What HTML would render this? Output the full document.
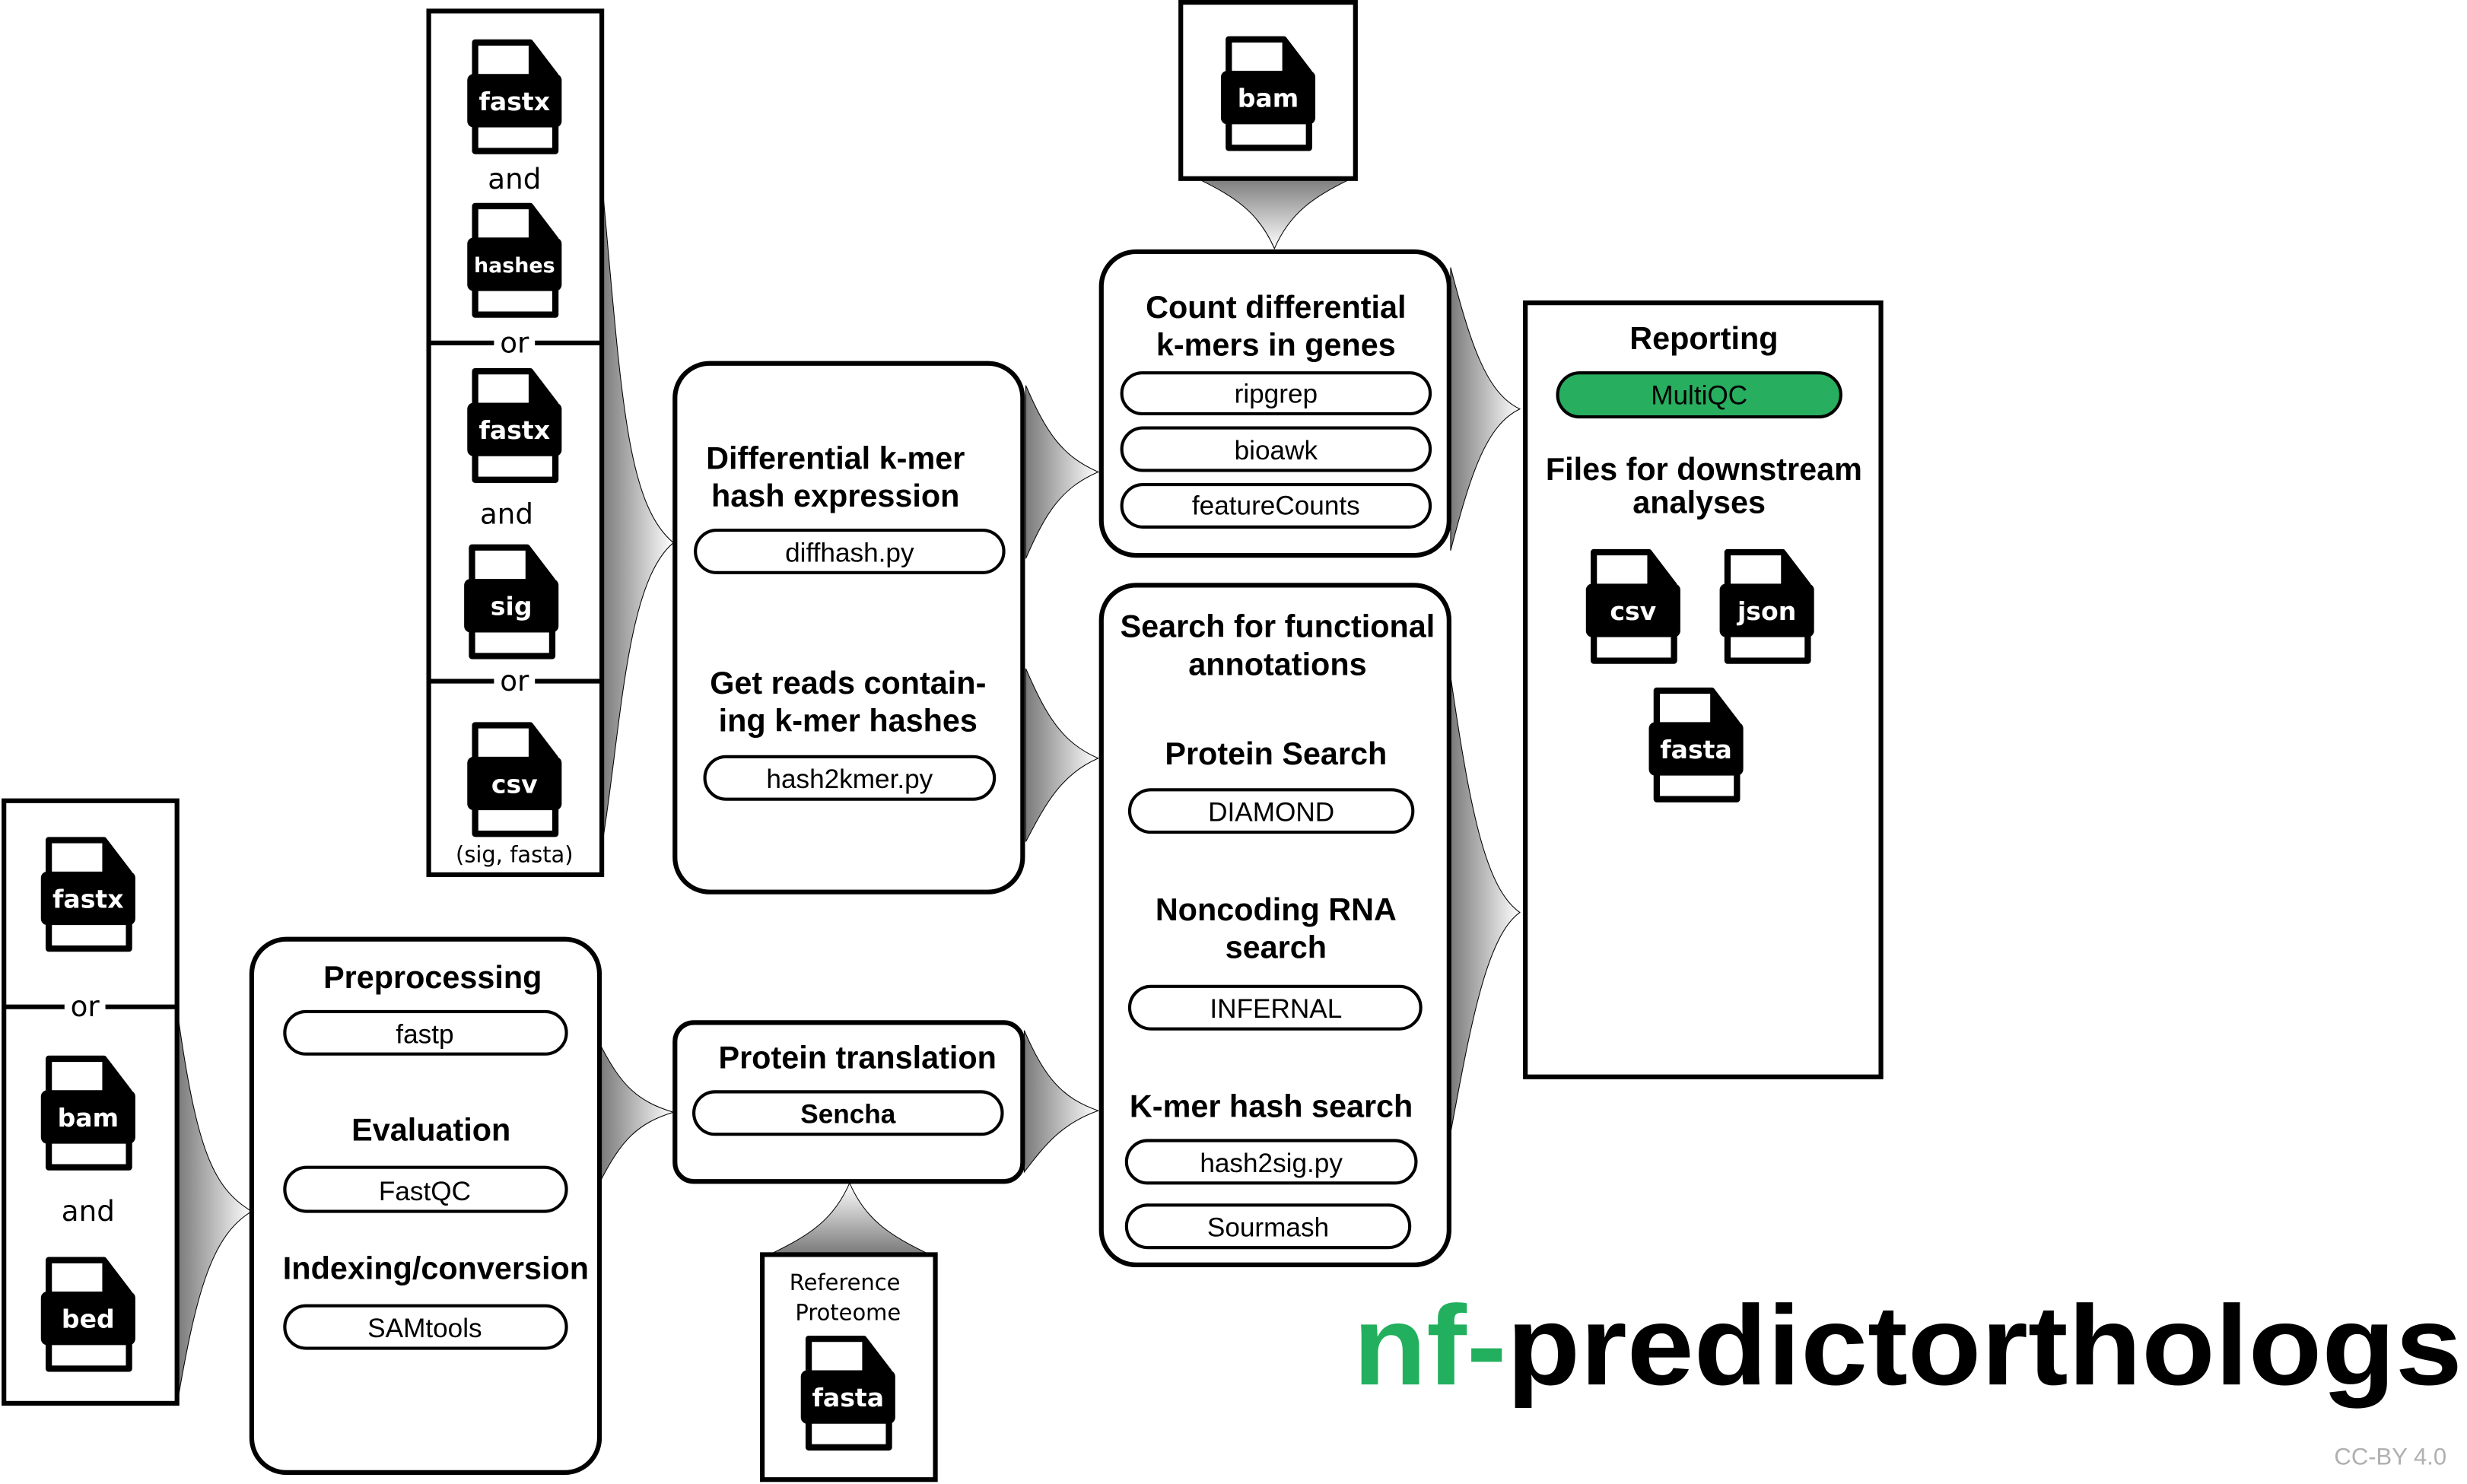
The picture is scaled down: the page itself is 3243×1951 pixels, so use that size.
<!DOCTYPE html>
<html><head><meta charset="utf-8"><style>
html,body{margin:0;padding:0;background:#fff;}
svg{display:block;}
</style></head><body>
<svg xmlns="http://www.w3.org/2000/svg" width="3243" height="1951" viewBox="0 0 1568 943.3" preserveAspectRatio="none">
<defs>
<linearGradient id="gh" x1="0" y1="0" x2="1" y2="0"><stop offset="0" stop-color="#7a7a7a"/><stop offset="1" stop-color="#ffffff"/></linearGradient>
<linearGradient id="gd" x1="0" y1="0" x2="0" y2="1"><stop offset="0" stop-color="#7a7a7a"/><stop offset="1" stop-color="#ffffff"/></linearGradient>
<linearGradient id="gu" x1="0" y1="1" x2="0" y2="0"><stop offset="0" stop-color="#7a7a7a"/><stop offset="1" stop-color="#ffffff"/></linearGradient>
<g id="doc">
<path d="M-25,-37 H10 L26,-16 V32 H-25 Z" fill="#fff" stroke="#000" stroke-width="4" stroke-linejoin="round"/>
<path d="M10,-37 V-16 H26 Z" fill="#000" stroke="#000" stroke-width="2" stroke-linejoin="round"/>
<rect x="-30" y="-17" width="60" height="34" rx="4" fill="#000"/>
</g>
</defs>
<g font-family="Liberation Sans, sans-serif">

<g stroke="#000" stroke-width="0.5">
<path d="M383,120 C395,250 398,320 428,345 C398,370 395,460 383,535 Z" fill="url(#gh)"/>
<path d="M652,245 C665,275 675,290 698,300 C675,310 665,325 652,355 Z" fill="url(#gh)"/>
<path d="M652,425 C665,455 675,472 698,482 C675,492 665,510 652,535 Z" fill="url(#gh)"/>
<path d="M922,170 C935,220 945,250 966,260 C945,270 935,300 922,350 Z" fill="url(#gh)"/>
<path d="M922,430 C935,520 945,565 966,580 C945,595 935,650 922,720 Z" fill="url(#gh)"/>
<path d="M113,645 C125,730 135,755 160,770 C135,785 125,820 113,890 Z" fill="url(#gh)"/>
<path d="M382,665 C395,690 405,700 428,707 C405,714 395,725 382,750 Z" fill="url(#gh)"/>
<path d="M651,655 C664,685 675,698 698,706 C675,714 664,728 651,745 Z" fill="url(#gh)"/>
<path d="M760,113 C785,125 800,135 810,158 C820,135 835,125 860,113 Z" fill="url(#gd)"/>
<path d="M490,797 C515,785 530,775 540,752 C550,775 565,785 590,797 Z" fill="url(#gu)"/>
</g>

<rect x="272.5" y="7" width="110" height="549" fill="#fff" stroke="#000" stroke-width="3"/>
<line x1="272" y1="218" x2="383" y2="218" stroke="#000" stroke-width="3"/>
<line x1="272" y1="433" x2="383" y2="433" stroke="#000" stroke-width="3"/>
<rect x="314" y="210" width="26" height="16" fill="#fff"/>
<rect x="314" y="425" width="26" height="16" fill="#fff"/>
<g font-family="DejaVu Sans, sans-serif" font-size="18" text-anchor="middle">
<text x="327" y="120">and</text>
<text x="327" y="224">or</text>
<text x="322" y="333">and</text>
<text x="327" y="439">or</text>
<text x="327" y="548" font-size="14">(sig, fasta)</text>
</g>
<g font-family="DejaVu Sans, sans-serif" font-weight="bold" fill="#fff" text-anchor="middle">
<use href="#doc" transform="translate(327,64)"/><text x="327" y="70" font-size="16">fastx</text>
<use href="#doc" transform="translate(327,168)"/><text x="327" y="173" font-size="13">hashes</text>
<use href="#doc" transform="translate(327,273)"/><text x="327" y="279" font-size="16">fastx</text>
<use href="#doc" transform="translate(325,385)"/><text x="325" y="391" font-size="16">sig</text>
<use href="#doc" transform="translate(327,498)"/><text x="327" y="504" font-size="16">csv</text>
</g>

<rect x="429" y="231" width="221" height="336" rx="22" fill="#fff" stroke="#000" stroke-width="3"/>
<g font-weight="bold" font-size="20" text-anchor="middle">
<text x="531" y="298">Differential k-mer</text>
<text x="531" y="322">hash expression</text>
<text x="539" y="441">Get reads contain-</text>
<text x="539" y="465">ing k-mer hashes</text>
</g>
<g fill="#fff" stroke="#000" stroke-width="2">
<rect x="442" y="337" width="196" height="27" rx="13.5"/>
<rect x="448" y="481" width="184" height="27" rx="13.5"/>
</g>
<g font-size="17" text-anchor="middle">
<text x="540" y="357">diffhash.py</text>
<text x="540" y="501">hash2kmer.py</text>
</g>

<rect x="750.5" y="1.5" width="111" height="112" fill="#fff" stroke="#000" stroke-width="3"/>
<use href="#doc" transform="translate(806,62)"/>
<text x="806" y="68" font-family="DejaVu Sans, sans-serif" font-weight="bold" fill="#fff" font-size="16" text-anchor="middle">bam</text>

<rect x="700" y="160" width="221" height="193" rx="22" fill="#fff" stroke="#000" stroke-width="3"/>
<g font-weight="bold" font-size="20" text-anchor="middle">
<text x="811" y="202">Count differential</text>
<text x="811" y="226">k-mers in genes</text>
</g>
<g fill="#fff" stroke="#000" stroke-width="2">
<rect x="713" y="237" width="196" height="26" rx="13"/>
<rect x="713" y="272" width="196" height="27" rx="13.5"/>
<rect x="713" y="308" width="196" height="27" rx="13.5"/>
</g>
<g font-size="17" text-anchor="middle">
<text x="811" y="256">ripgrep</text>
<text x="811" y="292">bioawk</text>
<text x="811" y="327">featureCounts</text>
</g>

<rect x="700" y="372" width="221" height="432" rx="22" fill="#fff" stroke="#000" stroke-width="3"/>
<g font-weight="bold" font-size="20" text-anchor="middle">
<text x="812" y="405">Search for functional</text>
<text x="812" y="429">annotations</text>
<text x="811" y="486">Protein Search</text>
<text x="811" y="585">Noncoding RNA</text>
<text x="811" y="609">search</text>
<text x="808" y="710">K-mer hash search</text>
</g>
<g fill="#fff" stroke="#000" stroke-width="2">
<rect x="718" y="502" width="180" height="27" rx="13.5"/>
<rect x="718" y="627" width="185" height="27" rx="13.5"/>
<rect x="716" y="725" width="184" height="27" rx="13.5"/>
<rect x="716" y="766" width="180" height="27" rx="13.5"/>
</g>
<g font-size="17" text-anchor="middle">
<text x="808" y="522">DIAMOND</text>
<text x="811" y="647">INFERNAL</text>
<text x="808" y="745">hash2sig.py</text>
<text x="806" y="786">Sourmash</text>
</g>

<rect x="969.5" y="192.5" width="226" height="492" fill="#fff" stroke="#000" stroke-width="3"/>
<g font-weight="bold" font-size="20" text-anchor="middle">
<text x="1083" y="222">Reporting</text>
<text x="1083" y="305">Files for downstream</text>
<text x="1080" y="326">analyses</text>
</g>
<rect x="990" y="237" width="180" height="28" rx="14" fill="#27ae5f" stroke="#000" stroke-width="2"/>
<text x="1080" y="257" font-size="17" text-anchor="middle">MultiQC</text>
<g font-family="DejaVu Sans, sans-serif" font-weight="bold" fill="#fff" text-anchor="middle" font-size="16">
<use href="#doc" transform="translate(1038,388)"/><text x="1038" y="394">csv</text>
<use href="#doc" transform="translate(1123,388)"/><text x="1123" y="394">json</text>
<use href="#doc" transform="translate(1078,476)"/><text x="1078" y="482">fasta</text>
</g>

<rect x="2.5" y="509" width="110" height="383" fill="#fff" stroke="#000" stroke-width="3"/>
<line x1="2" y1="640" x2="113" y2="640" stroke="#000" stroke-width="3"/>
<rect x="41" y="632" width="26" height="16" fill="#fff"/>
<g font-family="DejaVu Sans, sans-serif" font-size="18" text-anchor="middle">
<text x="54" y="646">or</text>
<text x="56" y="776">and</text>
</g>
<g font-family="DejaVu Sans, sans-serif" font-weight="bold" fill="#fff" text-anchor="middle" font-size="16">
<use href="#doc" transform="translate(56,571)"/><text x="56" y="577">fastx</text>
<use href="#doc" transform="translate(56,710)"/><text x="56" y="716">bam</text>
<use href="#doc" transform="translate(56,838)"/><text x="56" y="844">bed</text>
</g>

<rect x="160" y="597" width="221" height="339" rx="22" fill="#fff" stroke="#000" stroke-width="3"/>
<g font-weight="bold" font-size="20" text-anchor="middle">
<text x="275" y="628">Preprocessing</text>
<text x="274" y="725">Evaluation</text>
<text x="277" y="813">Indexing/conversion</text>
</g>
<g fill="#fff" stroke="#000" stroke-width="2">
<rect x="181" y="643" width="179" height="27" rx="13.5"/>
<rect x="181" y="742" width="179" height="28" rx="14"/>
<rect x="181" y="830" width="179" height="27" rx="13.5"/>
</g>
<g font-size="17" text-anchor="middle">
<text x="270" y="663">fastp</text>
<text x="270" y="763">FastQC</text>
<text x="270" y="850">SAMtools</text>
</g>

<rect x="429" y="650" width="221" height="101" rx="12" fill="#fff" stroke="#000" stroke-width="3"/>
<text x="545" y="679" font-weight="bold" font-size="20" text-anchor="middle">Protein translation</text>
<rect x="441" y="694" width="196" height="27" rx="13.5" fill="#fff" stroke="#000" stroke-width="2"/>
<text x="539" y="714" font-weight="bold" font-size="17" text-anchor="middle">Sencha</text>

<rect x="484.5" y="797.5" width="110" height="143" fill="#fff" stroke="#000" stroke-width="3"/>
<g font-family="DejaVu Sans, sans-serif" font-size="14" text-anchor="middle">
<text x="537" y="820">Reference</text>
<text x="539" y="839">Proteome</text>
</g>
<use href="#doc" transform="translate(539,888)"/>
<text x="539" y="894" font-family="DejaVu Sans, sans-serif" font-weight="bold" fill="#fff" font-size="16" text-anchor="middle">fasta</text>

<text x="860" y="880" font-weight="bold" font-size="72" textLength="705" lengthAdjust="spacingAndGlyphs"><tspan fill="#22b05e">nf-</tspan><tspan fill="#000">predictorthologs</tspan></text>
<text x="1555" y="931" font-size="15" fill="#b0b0b0" text-anchor="end">CC-BY 4.0</text>
</g>
</svg>
</body></html>
